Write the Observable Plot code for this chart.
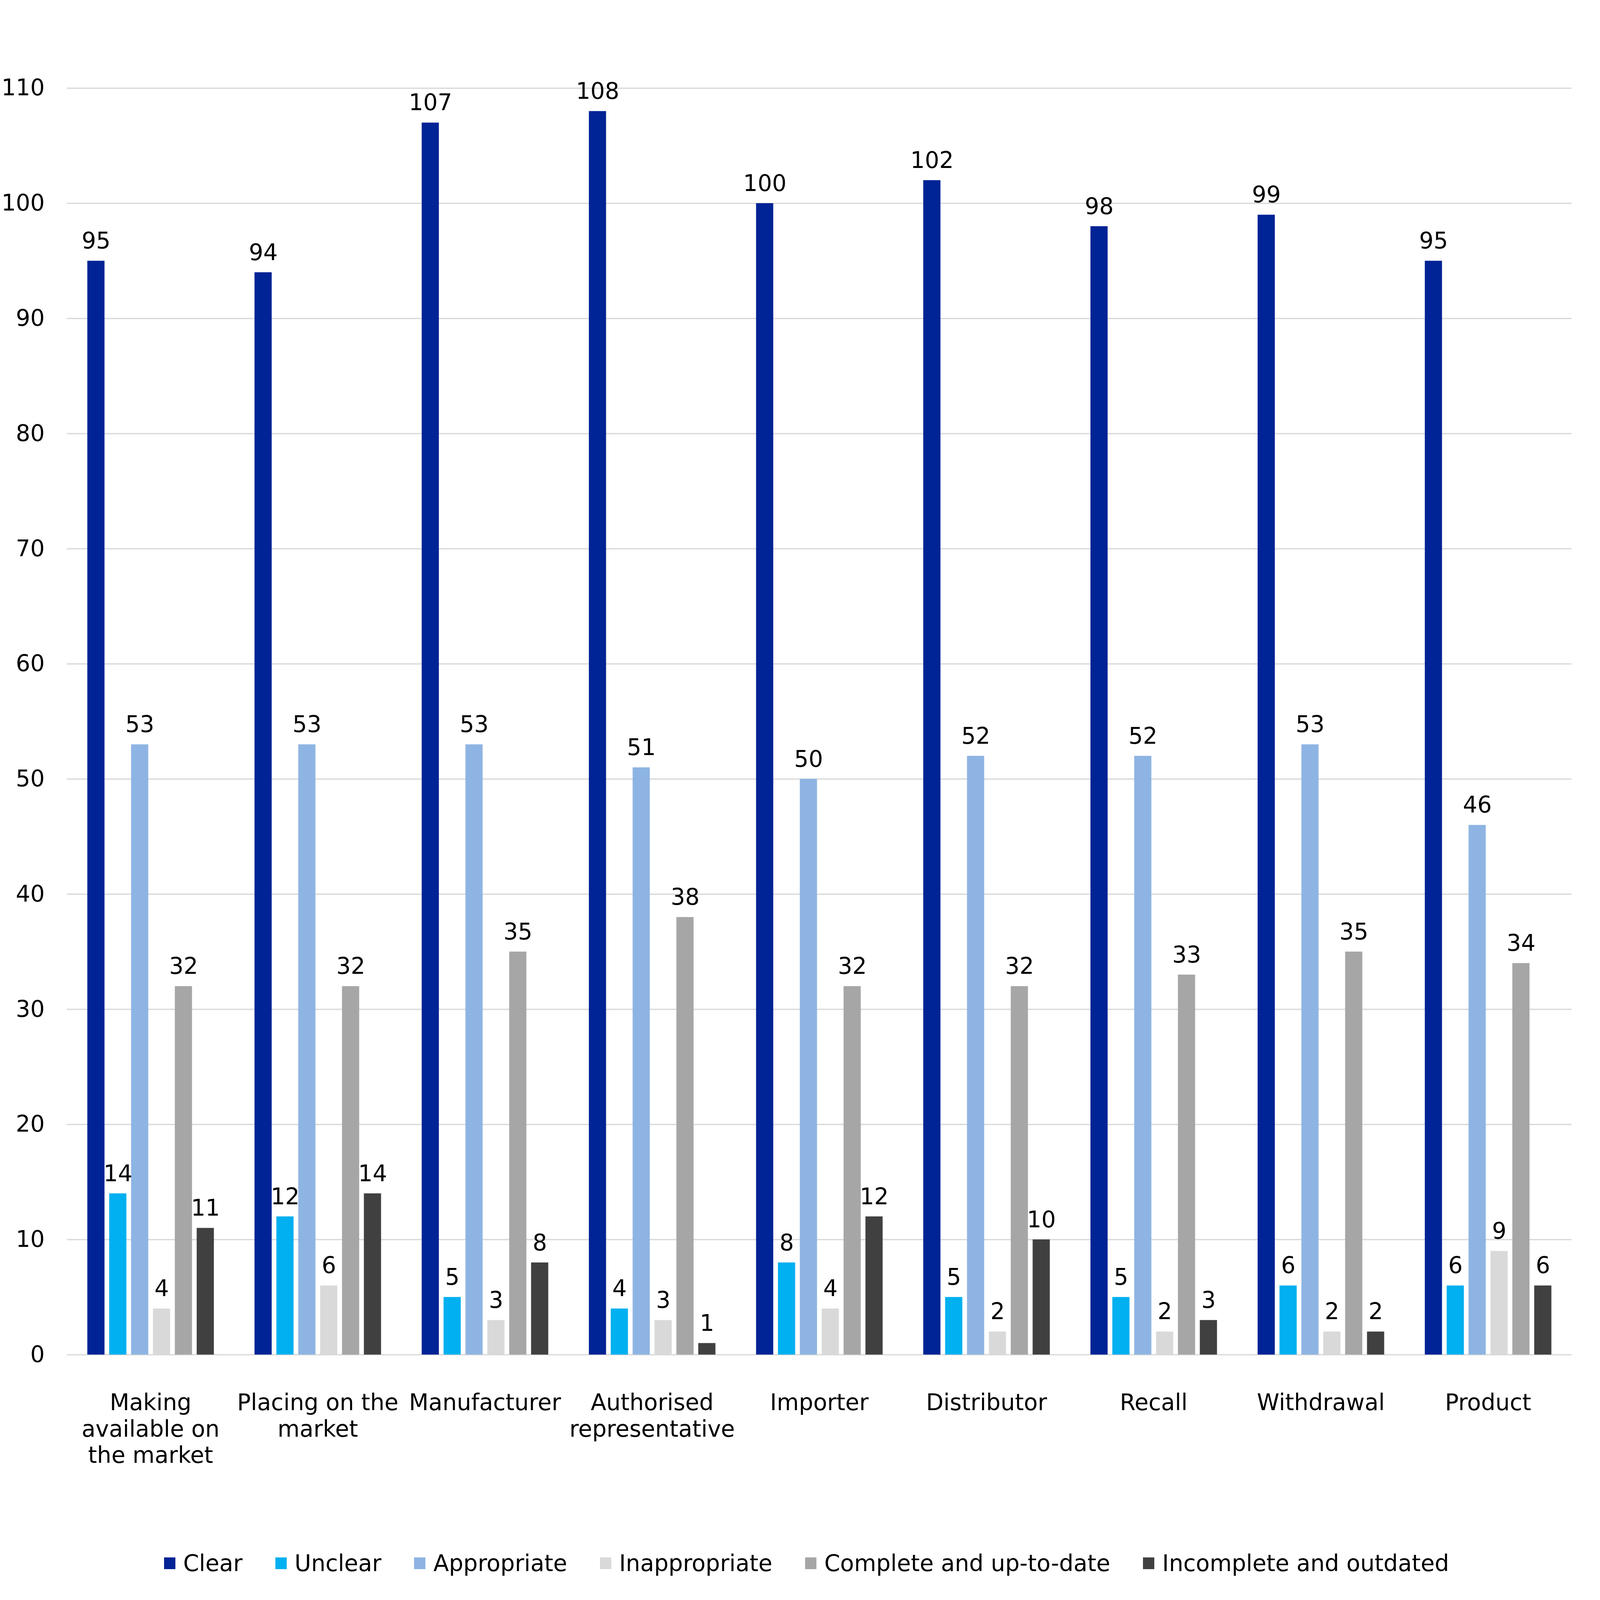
<!DOCTYPE html>
<html><head><meta charset="utf-8">
<script src="https://cdn.jsdelivr.net/npm/d3@7"></script>
<script src="https://cdn.jsdelivr.net/npm/@observablehq/plot@0.6"></script>
<style>
html,body{margin:0;padding:0;background:#fff;overflow:hidden;}
body{font-family:"DejaVu Sans",Verdana,sans-serif;}
#chart svg{display:block;}
#legend{display:flex;justify-content:center;align-items:center;color:#000;box-sizing:border-box;white-space:nowrap;}
.item{display:flex;align-items:center;}
.sw{flex:none;}
</style></head><body>
<div id="chart"></div><div id="legend"></div>
<script>
const categories = ["Making available on the market","Placing on the market","Manufacturer","Authorised representative","Importer","Distributor","Recall","Withdrawal","Product"];
const categoryLabels = ["Making\navailable on\nthe market","Placing on the\nmarket","Manufacturer","Authorised\nrepresentative","Importer","Distributor","Recall","Withdrawal","Product"];
const seriesNames = ["Clear","Unclear","Appropriate","Inappropriate","Complete and up-to-date","Incomplete and outdated"];
const seriesColors = ["#002395","#00B0F0","#8EB4E3","#D9D9D9","#A6A6A6","#404040"];
const clearVals = [95,94,107,108,100,102,98,99,95];
const unclearVals = [14,12,5,4,8,5,5,6,6];
const appropriateVals = [53,53,53,51,50,52,52,53,46];
const inappropriateVals = [4,6,3,3,4,2,2,2,9];
const completeVals = [32,32,35,38,32,32,33,35,34];
const incompleteVals = [11,14,8,1,12,10,3,2,6];
const yTicks = [0,10,20,30,40,50,60,70,80,90,100,110];

// fit the 7332x4107 design into the actual window
const W = window.innerWidth || 7332, H = window.innerHeight || 4107;
const sx = W / 7332, sy = H / 4107, f = Math.min(sx, sy);
const fs = 104 * f;

const seriesValues = [clearVals, unclearVals, appropriateVals, inappropriateVals, completeVals, incompleteVals];
const data = [];
categories.forEach((c, i) => {
  seriesNames.forEach((s, j) => {
    data.push({category: c, series: s, value: seriesValues[j][i]});
  });
});
const labelMap = new Map(categories.map((c, i) => [c, categoryLabels[i]]));

const svgH = Math.round(3930 * sy);
const plot = Plot.plot({
  width: W,
  height: svgH,
  marginLeft: 298 * sx,
  marginRight: 124 * sx,
  marginTop: 226 * sy,
  marginBottom: svgH - 3477 * sy,
  style: {fontFamily: "'DejaVu Sans', Verdana, sans-serif", fontSize: fs + "px", color: "#000", background: "#fff"},
  fx: {domain: categories, padding: 0, label: null},
  x: {domain: seriesNames, paddingInner: 0.216, paddingOuter: 0.873, axis: null},
  y: {domain: [0, 110], label: null},
  color: {domain: seriesNames, range: seriesColors},
  marks: [
    Plot.gridY(yTicks, {stroke: "#d9d9d9", strokeOpacity: 1, strokeWidth: Math.max(2, 6 * f)}),
    Plot.barY(data, {fx: "category", x: "series", y: "value", fill: "series"}),
    Plot.text(data, {fx: "category", x: "series", y: "value", text: d => String(d.value), dy: -57 * f, lineAnchor: "bottom", fontSize: fs, fill: "#000"}),
    Plot.axisY(yTicks, {anchor: "left", tickSize: 0, tickPadding: 102 * sx, fontSize: fs, label: null}),
    Plot.axisFx({anchor: "bottom", tickSize: 0, tickPadding: 100 * sy - 0.097 * fs, fontSize: fs, lineHeight: 1.163, label: null, tickFormat: d => labelMap.get(d)})
  ]
});
document.getElementById("chart").appendChild(plot);

const legend = document.getElementById("legend");
legend.style.height = Math.max(0, H - svgH - 11 * sy) + "px";
legend.style.fontSize = fs + "px";
legend.style.gap = (150 * f) + "px";
legend.style.paddingLeft = (60 * sx) + "px";
seriesNames.forEach((s, i) => {
  const item = document.createElement("div");
  item.className = "item";
  item.style.gap = (36 * f) + "px";
  const sw = document.createElement("div");
  sw.className = "sw";
  sw.style.width = (52 * f) + "px";
  sw.style.height = (52 * f) + "px";
  sw.style.background = seriesColors[i];
  const t = document.createElement("span");
  t.textContent = s;
  item.appendChild(sw);
  item.appendChild(t);
  legend.appendChild(item);
});
</script>
</body></html>
